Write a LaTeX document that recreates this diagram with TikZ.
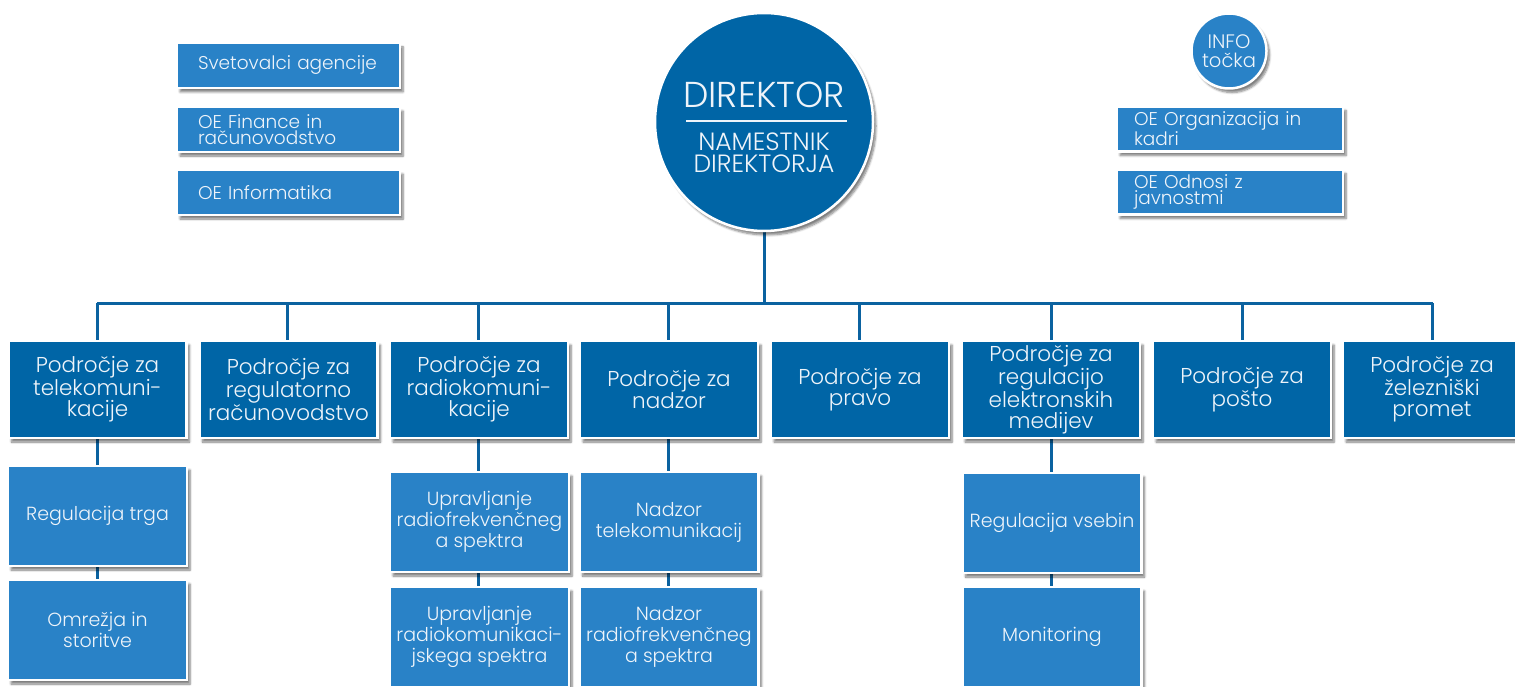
\documentclass[tikz,border=0pt]{standalone}
\usepackage{fontspec}
\setmainfont{Poppins}[UprightFont={* Light}]
\usetikzlibrary{shadows,shadows.blur}
\definecolor{dblue}{HTML}{0065A6}
\definecolor{lblue}{HTML}{2982C7}
\definecolor{lineblue}{HTML}{0B62A0}
\definecolor{txt}{HTML}{EEF4FA}
\tikzset{
  x=1pt, y=-1pt,
  shad/.style={blur shadow={shadow xshift=3pt, shadow yshift=-4pt, shadow blur steps=6, shadow opacity=50}},
  basebox/.style={rectangle, draw=white, line width=2.5pt, inner sep=0pt, text=txt, shad},
  topbox/.style={basebox, fill=dblue, minimum width=178pt, minimum height=97pt, align=center,
     font=\fontsize{21.5}{21}\selectfont},
  subbox/.style={basebox, fill=lblue, minimum width=179pt, minimum height=100pt, align=center,
     font=\fontsize{19}{21}\selectfont},
  sidebox/.style={basebox, fill=lblue, minimum width=223pt, minimum height=45pt, align=left,
     font=\fontsize{18.5}{16}\selectfont},
  conn/.style={draw=lineblue, line width=3pt},
  circ/.style={circle, draw=white, line width=2.5pt, inner sep=0pt, text=txt, shad, align=center},
}
\begin{document}
\begin{tikzpicture}
\useasboundingbox (0,0) rectangle (1515,687);
% connectors first
\coordinate (bus) at (764,303);
\coordinate (busL) at (97,303);
\coordinate (busR) at (1433,303);
\draw[conn] (764,200) -- (bus);
\draw[conn] (busL) -- (busR);
\foreach \x in {97,287,478,668,859,1051,1242,1432}{
  \draw[conn] (\x,303) -- (\x,345);
}
\draw[conn] (97,430) -- (97,590);
\draw[conn] (478,430) -- (478,597);
\draw[conn] (668,430) -- (668,597);
\draw[conn] (1051,430) -- (1051,597);

% director
\node[circ, fill=dblue, minimum size=218pt] (dir) at (764,122) {};
\node[text=txt, font=\fontsize{36}{36}\selectfont, inner sep=0pt] (dirt) at (764,95) {DIREKTOR};
\coordinate (dl1) at (686,121);
\coordinate (dl2) at (847,121);
\draw[txt, line width=1.6pt] (dl1) -- (dl2);
\node[text=txt, font=\fontsize{25}{22}\selectfont, align=center, inner sep=0pt] (namt) at (764,153) {NAMESTNIK\\DIREKTORJA};

% info
\node[circ, fill=lblue, minimum size=75pt, font=\fontsize{19.5}{19}\selectfont] (info) at (1229,51) {INFO\\točka};

% side boxes left
\node[sidebox, text width=181pt, inner xsep=21pt] (sv) at (288.5,65.5) {Svetovalci agencije};
\node[sidebox, text width=181pt, inner xsep=21pt] (fin) at (288.5,129.5) {OE Finance in\\računovodstvo};
\node[sidebox, text width=181pt, inner xsep=21pt] (inf) at (288.5,192.5) {OE Informatika};
% side boxes right
\node[sidebox, minimum width=226pt, text width=192pt, inner xsep=17pt] (org) at (1230,129) {OE Organizacija in\\kadri};
\node[sidebox, minimum width=226pt, text width=192pt, inner xsep=17pt] (odn) at (1230,192) {OE Odnosi z\\javnostmi};

% top row
\node[topbox] (p1) at (97.5,389.5) {Področje za\\telekomuni-\\kacije};
\node[topbox] (p2) at (288.5,389.5) {Področje za\\regulatorno\\računovodstvo};
\node[topbox] (p3) at (479,389.5) {Področje za\\radiokomuni-\\kacije};
\node[topbox] (p4) at (669,389.5) {Področje za\\nadzor};
\node[topbox] (p5) at (860,389.5) {Področje za\\pravo};
\node[topbox] (p6) at (1051,389.5) {Področje za\\regulacijo\\elektronskih\\medijev};
\node[topbox] (p7) at (1242,389.5) {Področje za\\pošto};
\node[topbox] (p8) at (1432,389.5) {Področje za\\železniški\\promet};

% sub boxes
\node[subbox] (s11) at (97.5,516) {Regulacija trga};
\node[subbox] (s12) at (97.5,630) {Omrežja in\\storitve};
\node[subbox] (s31) at (479.5,522) {Upravljanje\\radiofrekvenčneg\\a spektra};
\node[subbox] (s32) at (479.5,637) {Upravljanje\\radiokomunikaci-\\jskega spektra};
\node[subbox] (s41) at (669,522) {Nadzor\\telekomunikacij};
\node[subbox] (s42) at (669,637) {Nadzor\\radiofrekvenčneg\\a spektra};
\node[subbox] (s61) at (1052,523) {Regulacija vsebin};
\node[subbox] (s62) at (1052,637) {Monitoring};
\end{tikzpicture}
\end{document}
